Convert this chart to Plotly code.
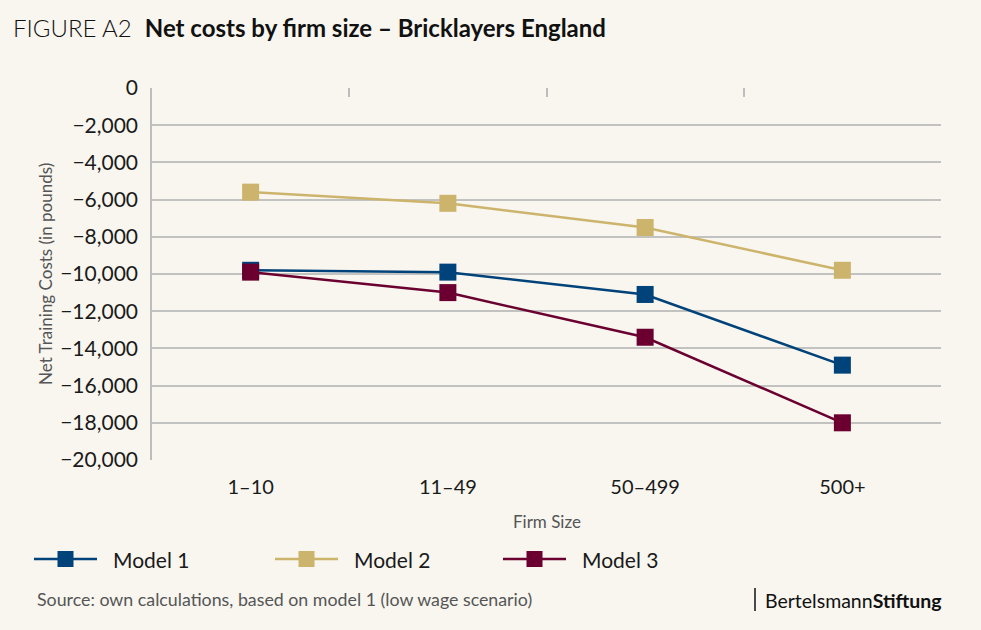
import plotly.graph_objects as go

categories = ["1–10", "11–49", "50–499", "500+"]
model1 = [-9800, -9900, -11100, -14900]
model2 = [-5600, -6200, -7500, -9800]
model3 = [-9900, -11000, -13400, -18000]
series_names = ["Model 1", "Model 2", "Model 3"]
colors = ["#00427a", "#cdb46c", "#6b0030"]
ytick_vals = list(range(0, -20001, -2000))

BG = "#f8f6ef"
FONT = "Lato"
W, H = 981, 630
L, R, T, B = 152, 40, 88, 170
PW, PH = W - L - R, H - T - B


def px_x(x):
    return (x - L) / PW


def px_y(y):
    return (H - B - y) / PH


fig = go.Figure()
for name, vals, col in zip(series_names, [model1, model2, model3], colors):
    fig.add_trace(go.Scatter(
        x=categories, y=vals, name=name, mode="lines+markers",
        line=dict(color=col, width=2.5),
        marker=dict(symbol="square", size=17, color=col),
        showlegend=False,
    ))

# invisible trace on a top axis to draw the category boundary ticks
fig.add_trace(go.Scatter(x=[0.5], y=[0], xaxis="x2", yaxis="y",
                         mode="markers", marker=dict(opacity=0),
                         showlegend=False, hoverinfo="skip"))

fig.update_layout(
    width=W, height=H,
    paper_bgcolor=BG, plot_bgcolor=BG,
    margin=dict(l=L, r=R, t=T, b=B),
    font=dict(family=FONT, color="#1a1a1a"),
    xaxis=dict(type="category", range=[-0.5, 3.5], showgrid=False, zeroline=False,
               showline=False, ticks="", tickfont=dict(size=20, color="#1a1a1a"),
               ticklabelstandoff=13),
    xaxis2=dict(overlaying="x", side="top", range=[-0.5, 3.5],
                tickvals=[0.5, 1.5, 2.5, 3.5], ticks="inside", ticklen=9,
                tickcolor="#bdbdbd", tickwidth=1.5, showticklabels=False,
                showgrid=False, zeroline=False, showline=False),
    yaxis=dict(range=[-20000, 0], tickvals=ytick_vals, tickformat=",d",
               showgrid=True, gridcolor="#c2c2c0", gridwidth=1.5,
               zeroline=False, showline=True, linecolor="#bdbdbd", linewidth=1.5,
               tickfont=dict(size=21, color="#1a1a1a"), ticklabelstandoff=8),
)

# custom legend (long line with square marker, like the original)
legend_x0 = [34, 275, 503]
legend_y = 559
for name, col, x0 in zip(series_names, colors, legend_x0):
    fig.add_shape(type="line", xref="paper", yref="paper",
                  x0=px_x(x0), x1=px_x(x0 + 63), y0=px_y(legend_y), y1=px_y(legend_y),
                  line=dict(color=col, width=2.5))
    cx = x0 + 31.5
    fig.add_shape(type="rect", xref="paper", yref="paper",
                  x0=px_x(cx - 8), x1=px_x(cx + 8),
                  y0=px_y(legend_y - 8), y1=px_y(legend_y + 8),
                  line=dict(width=0), fillcolor=col)
    fig.add_annotation(text=name, xref="paper", yref="paper",
                       x=px_x(x0 + 77), y=px_y(legend_y), xanchor="left",
                       yanchor="middle", showarrow=False,
                       font=dict(size=21, color="#1a1a1a", family=FONT))

# y-axis title
fig.add_annotation(text="Net Training Costs (in pounds)", xref="paper", yref="paper",
                   x=px_x(45), y=0.5, textangle=-90, showarrow=False,
                   font=dict(size=17, color="#555555", family=FONT),
                   xanchor="center", yanchor="middle")
# x-axis title
fig.add_annotation(text="Firm Size", xref="paper", yref="paper",
                   x=0.5, y=px_y(521), showarrow=False,
                   font=dict(size=17, color="#555555", family=FONT),
                   xanchor="center", yanchor="middle")
# title
fig.add_annotation(text="FIGURE A2  <b>Net costs by firm size – Bricklayers England</b>",
                   xref="paper", yref="paper", x=px_x(11), y=px_y(28),
                   xanchor="left", yanchor="middle", showarrow=False,
                   font=dict(size=24, color="#111111", family=FONT, weight=300))
# source
fig.add_annotation(text="Source: own calculations, based on model 1 (low wage scenario)",
                   xref="paper", yref="paper", x=px_x(35), y=px_y(599),
                   xanchor="left", yanchor="middle", showarrow=False,
                   font=dict(size=17.8, color="#555555", family=FONT))
# logo text
fig.add_annotation(text="Bertelsmann<b>Stiftung</b>",
                   xref="paper", yref="paper", x=px_x(944), y=px_y(600),
                   xanchor="right", yanchor="middle", showarrow=False,
                   font=dict(size=19.5, color="#111111", family=FONT))
fig.add_shape(type="line", xref="paper", yref="paper",
              x0=px_x(755), x1=px_x(755), y0=px_y(588), y1=px_y(611),
              line=dict(color="#111111", width=1.5))

fig.write_html("out.html", config={"displayModeBar": False},
               post_script="document.body.style.margin='0';")
